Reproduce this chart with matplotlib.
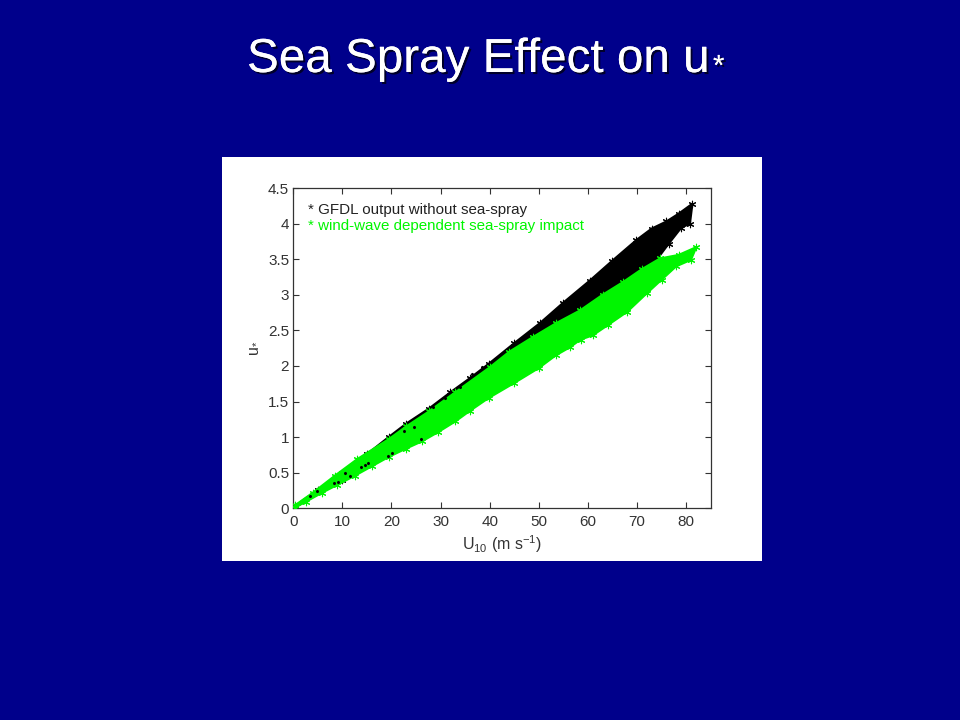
import matplotlib
matplotlib.use("Agg")
import matplotlib.pyplot as plt
from matplotlib.patches import Rectangle
import matplotlib.patheffects as pe

plt.rcParams['font.family'] = ['Liberation Sans', 'DejaVu Sans']
plt.rcParams['mathtext.fontset'] = 'custom'
plt.rcParams['mathtext.rm'] = 'Liberation Sans'
plt.rcParams['mathtext.default'] = 'regular'

# band edges (U10, u*)
black_upper_x = [0.3, 5, 10, 15, 19.4, 23, 27.6, 32, 36, 39.8, 45, 50.2, 55, 60.4, 65, 69.9, 73, 76, 78.5, 81.3]
black_upper_y = [0.03, 0.26, 0.50, 0.76, 1.00, 1.19, 1.40, 1.63, 1.83, 2.03, 2.32, 2.60, 2.89, 3.20, 3.48, 3.77, 3.93, 4.03, 4.14, 4.28]
black_lower_x = [80.8, 79, 76.5, 74, 70.5, 67.2, 63.5, 60.4, 57, 53.6, 48, 40, 30, 20, 10, 0.3]
black_lower_y = [4.00, 3.94, 3.72, 3.49, 3.32, 3.16, 3.02, 2.88, 2.74, 2.60, 2.30, 1.85, 1.30, 0.85, 0.40, 0.01]

green_upper_x = [0.3, 4, 8.5, 13, 19.4, 23, 27.6, 33, 40, 44, 48.9, 53.5, 58.4, 63, 67.2, 71, 74.7, 78.5, 82.1]
green_upper_y = [0.04, 0.22, 0.46, 0.69, 0.97, 1.15, 1.36, 1.63, 1.98, 2.20, 2.41, 2.60, 2.78, 3.00, 3.18, 3.36, 3.51, 3.56, 3.67]
green_lower_x = [81, 78, 75, 72, 68, 64, 61, 58.5, 56.3, 53.5, 50, 45, 39.8, 36, 33, 29.5, 26.2, 23, 19.4, 16, 12.6, 9, 5.9, 2.5, 0.3]
green_lower_y = [3.49, 3.40, 3.21, 3.02, 2.76, 2.57, 2.43, 2.37, 2.26, 2.15, 1.97, 1.76, 1.55, 1.37, 1.22, 1.07, 0.94, 0.84, 0.72, 0.59, 0.46, 0.33, 0.22, 0.09, 0.01]

# black points that show through the green band
speck_x = [20.1, 19.2, 14.7, 15.2, 13.8, 11.5, 10.6, 9.2, 8.2, 26, 22.5, 24.5, 4.8, 3.4, 28.5, 31, 34, 36.5, 38.5]
speck_y = [0.77, 0.74, 0.61, 0.64, 0.58, 0.45, 0.50, 0.37, 0.35, 0.97, 1.08, 1.14, 0.24, 0.17, 1.42, 1.55, 1.70, 1.88, 1.99]

x_ticks = [0, 10, 20, 30, 40, 50, 60, 70, 80]
y_ticks = [0, 0.5, 1, 1.5, 2, 2.5, 3, 3.5, 4, 4.5]
y_labels = ['0', '0.5', '1', '1.5', '2', '2.5', '3', '3.5', '4', '4.5']

navy = '#00008b'
green = '#00f500'
star = (6, 2, 0)

fig = plt.figure(figsize=(9.6, 7.2), dpi=100, facecolor=navy)
fig.patches.append(Rectangle((222 / 960, 1 - 561 / 720), 540 / 960, 404 / 720, zorder=-1,
                             transform=fig.transFigure, facecolor='white', edgecolor='none'))

# title and its small star, with the slide's drop shadow
shadow = [pe.withSimplePatchShadow(offset=(1.5, -1.5), shadow_rgbFace=(0, 0, 0), alpha=0.7), pe.Normal()]
fig.text(247 / 960, 1 - 72 / 720, 'Sea Spray Effect on u', color='white', fontsize=34.3,
         ha='left', va='baseline', path_effects=shadow)
fig.text(713 / 960, 1 - 75 / 720, '*', color='white', fontsize=21,
         ha='left', va='baseline', path_effects=shadow)

ax = fig.add_axes([293.3 / 960, 1 - 508.3 / 720, 417.3 / 960, 320.3 / 720], facecolor='white')

ax.fill(black_upper_x + black_lower_x, black_upper_y + black_lower_y, color='black', lw=1.5, zorder=2)
ax.scatter(black_upper_x + black_lower_x, black_upper_y + black_lower_y, marker=star, s=22,
           color='black', linewidths=0.8, zorder=2)
ax.fill(green_upper_x + green_lower_x, green_upper_y + green_lower_y, color=green, lw=1.5, zorder=3)
ax.scatter(green_upper_x + green_lower_x, green_upper_y + green_lower_y, marker=star, s=22,
           color=green, linewidths=0.8, zorder=3)
ax.scatter(speck_x, speck_y, marker=star, s=4, color='black', linewidths=0.4, zorder=4)

ax.set_xlim(0, 85)
ax.set_ylim(0, 4.5)
ax.set_xticks(x_ticks)
ax.set_yticks(y_ticks)
ax.set_yticklabels(y_labels)
ax.tick_params(direction='in', top=True, right=True, length=4, width=0.8,
               labelsize=11, labelcolor='#333333', color='#333333', pad=3)
ax.tick_params(axis='x', pad=5)
for spine in ax.spines.values():
    spine.set_color('#333333')
    spine.set_linewidth(0.9)

ax.text(3, 4.19, '* GFDL output without sea-spray', color='#222222', fontsize=10.9, va='center')
ax.text(3, 3.97, '* wind-wave dependent sea-spray impact', color=green, fontsize=10.9, va='center')

ax.set_xlabel('U$_{10}$ (m s$^{-1}$)', fontsize=11.5, color='#333333', labelpad=3)
ax.set_ylabel('u$_{*}$', fontsize=11.5, color='#333333', labelpad=6)

fig.savefig('out.png', dpi=100, facecolor=navy)
plt.close(fig)
